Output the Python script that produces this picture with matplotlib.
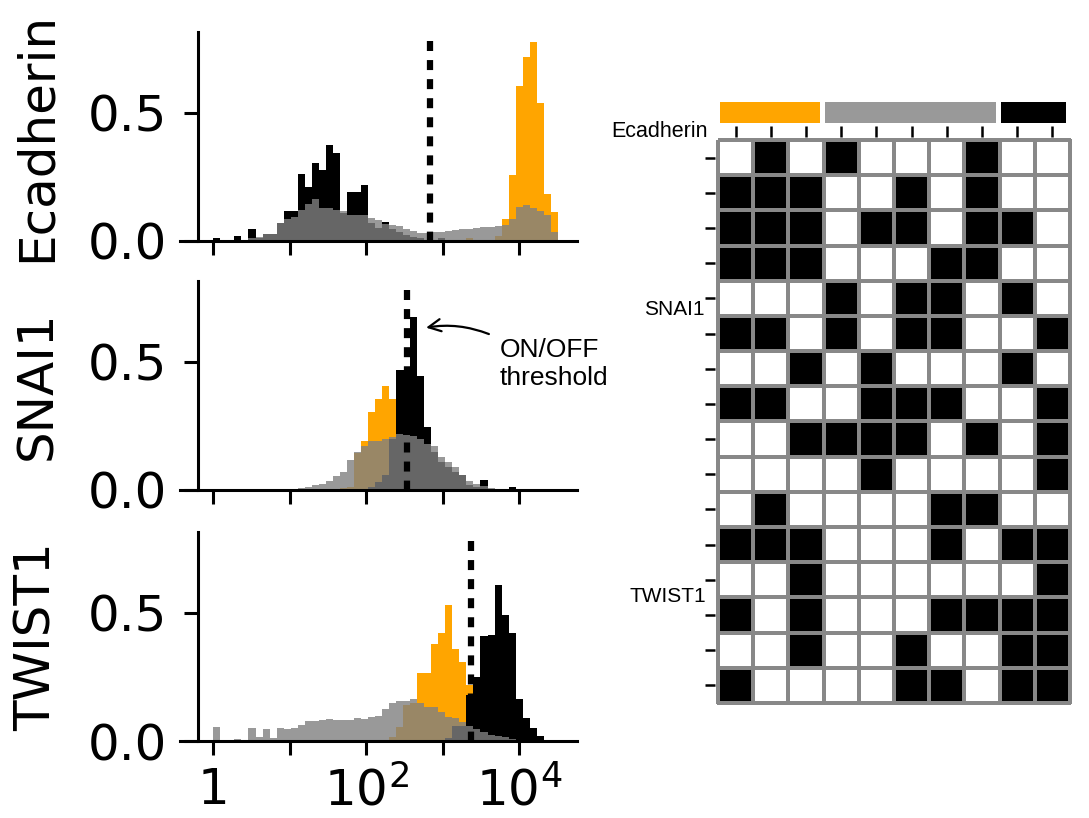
import numpy as np
import matplotlib.pyplot as plt
from matplotlib.colors import ListedColormap
from matplotlib.ticker import NullLocator

plt.rcParams['font.family'] = 'DejaVu Sans'

# log-spaced bins starting at 1 (50 bins, 0.092 decades each)
bin_edges = np.logspace(0, 4.6, 51)

genes = ["Ecadherin", "SNAI1", "TWIST1"]
thresholds = [690, 340, 2350]
threshold_top = 0.78

# fraction of cells per bin (orange / black / gray cell groups)
ecad_orange = [0, 0, 0, 0, 0, 0, 0, 0, 0, 0,
               0, 0, 0, 0, 0, 0, 0, 0, 0, 0,
               0, 0, 0, 0, 0, 0, 0, 0, 0, 0,
               0, 0, 0, 0, 0, 0, 0.01, 0, 0, 0.005,
               0.02, 0.084, 0.256, 0.604, 0.716, 0.777, 0.537, 0.183, 0.114, 0]
ecad_black = [0.01, 0, 0, 0.02, 0, 0.048, 0.01, 0.027, 0.027, 0.07,
              0.118, 0.118, 0.26, 0.21, 0.305, 0.277, 0.374, 0.345, 0.11, 0.19,
              0.19, 0.218, 0.07, 0.05, 0.075, 0.045, 0.035, 0.025, 0.015, 0.01,
              0.005, 0, 0.012, 0, 0, 0, 0, 0, 0, 0,
              0, 0, 0, 0, 0, 0, 0, 0, 0, 0]
ecad_gray = [0, 0, 0, 0, 0, 0.01, 0.015, 0.027, 0.027, 0.07,
             0.085, 0.095, 0.121, 0.144, 0.162, 0.127, 0.127, 0.12, 0.115, 0.1,
             0.1, 0.1, 0.09, 0.08, 0.065, 0.062, 0.058, 0.045, 0.04, 0.03,
             0.032, 0.034, 0.035, 0.04, 0.042, 0.046, 0.048, 0.052, 0.055, 0.056,
             0.06, 0.062, 0.085, 0.134, 0.14, 0.13, 0.115, 0.1, 0.036, 0]

snai_orange = [0, 0, 0, 0, 0, 0, 0, 0, 0, 0,
               0, 0, 0, 0, 0, 0, 0, 0, 0.008, 0.013,
               0.145, 0.19, 0.303, 0.353, 0.405, 0.353, 0, 0, 0, 0,
               0, 0, 0, 0, 0, 0, 0, 0, 0, 0,
               0, 0, 0, 0, 0, 0, 0, 0, 0, 0]
snai_black = [0, 0, 0, 0, 0, 0, 0, 0, 0, 0,
              0, 0, 0, 0, 0, 0, 0, 0, 0, 0,
              0, 0, 0.01, 0.03, 0.06, 0.2, 0.468, 0.468, 0.673, 0.446,
              0.247, 0.15, 0.11, 0.09, 0.07, 0.06, 0.02, 0.01, 0.04, 0.005,
              0, 0, 0.012, 0, 0, 0, 0, 0, 0, 0]
snai_gray = [0, 0, 0, 0, 0, 0, 0, 0, 0, 0,
             0, 0.003, 0.008, 0.012, 0.018, 0.025, 0.035, 0.055, 0.07, 0.115,
             0.147, 0.17, 0.19, 0.19, 0.2, 0.208, 0.22, 0.215, 0.21, 0.2,
             0.18, 0.17, 0.13, 0.11, 0.09, 0.06, 0.035, 0.025, 0.015, 0.008,
             0.005, 0.003, 0.002, 0, 0, 0, 0, 0, 0, 0]

twist_orange = [0, 0, 0, 0, 0, 0, 0, 0, 0, 0,
                0, 0, 0, 0, 0, 0, 0, 0, 0, 0,
                0, 0, 0, 0, 0.005, 0.017, 0.056, 0.14, 0.147, 0.266,
                0.266, 0.377, 0.42, 0.53, 0.36, 0.31, 0.22, 0, 0, 0,
                0, 0, 0, 0, 0, 0, 0, 0, 0, 0]
twist_black = [0, 0, 0, 0, 0, 0, 0, 0, 0, 0,
               0, 0, 0, 0, 0, 0, 0, 0, 0, 0,
               0, 0, 0, 0, 0, 0, 0, 0, 0, 0,
               0, 0, 0, 0.01, 0.058, 0.058, 0.18, 0.25, 0.41, 0.415,
               0.61, 0.49, 0.42, 0.165, 0.088, 0.052, 0.02, 0, 0, 0]
twist_gray = [0.056, 0, 0, 0.007, 0, 0.052, 0.017, 0.048, 0.01, 0.052,
              0.048, 0.052, 0.062, 0.079, 0.079, 0.082, 0.084, 0.082, 0.081, 0.082,
              0.088, 0.085, 0.092, 0.097, 0.123, 0.15, 0.155, 0.158, 0.162, 0.147,
              0.134, 0.134, 0.114, 0.092, 0.088, 0.075, 0.06, 0.045, 0.035, 0.023,
              0.02, 0.014, 0.009, 0.004, 0, 0, 0, 0, 0, 0]

orange_hists = [ecad_orange, snai_orange, twist_orange]
black_hists = [ecad_black, snai_black, twist_black]
gray_hists = [ecad_gray, snai_gray, twist_gray]

# binary ON/OFF states (16 rows x 10 columns)
states = [
    [0, 1, 0, 1, 0, 0, 0, 1, 0, 0],
    [1, 1, 1, 0, 0, 1, 0, 1, 0, 0],
    [1, 1, 1, 0, 1, 1, 0, 1, 1, 0],
    [1, 1, 1, 0, 0, 0, 1, 1, 0, 0],
    [0, 0, 0, 1, 0, 1, 1, 0, 1, 0],
    [1, 1, 0, 1, 0, 1, 1, 0, 0, 1],
    [0, 0, 1, 0, 1, 0, 0, 0, 1, 0],
    [1, 1, 0, 0, 1, 1, 1, 0, 0, 1],
    [0, 0, 1, 1, 1, 1, 0, 1, 0, 1],
    [0, 0, 0, 0, 1, 0, 0, 0, 0, 1],
    [0, 1, 0, 0, 0, 0, 1, 1, 0, 0],
    [1, 1, 1, 0, 0, 0, 1, 0, 1, 1],
    [0, 0, 1, 0, 0, 0, 0, 0, 0, 1],
    [1, 0, 1, 0, 0, 0, 1, 1, 1, 1],
    [0, 0, 1, 0, 0, 1, 0, 0, 1, 1],
    [1, 0, 0, 0, 0, 1, 1, 0, 1, 1],
]
group_sizes = [3, 5, 2]
group_colors = ['#FFA500', '#999999', 'black']

fig = plt.figure(figsize=(10.89, 8.18), dpi=100)

# histogram panels
bottoms = [0.7054, 0.4010, 0.0941]
for i, gene in enumerate(genes):
    ax = fig.add_axes([0.1653, bottoms[i], 0.3646, 0.2555])
    ax.stairs(orange_hists[i], bin_edges, fill=True, color='#FFA500', lw=0)
    ax.stairs(black_hists[i], bin_edges, fill=True, color='black', lw=0)
    ax.stairs(gray_hists[i], bin_edges, fill=True, color='#808080', alpha=0.8, lw=0)
    ax.plot([thresholds[i], thresholds[i]], [threshold_top, 0], color='black',
            lw=4.5, linestyle=(0, (1.6, 1.45)), dash_capstyle='butt')

    ax.set_xscale('log')
    ax.set_xlim(10 ** -0.436, 10 ** 4.76)
    ax.set_ylim(0, 0.815)
    ax.set_xticks([1, 10, 100, 1000, 10000])
    if i == 2:
        ax.set_xticklabels(['1', '', '$10^2$', '', '$10^4$'])
    else:
        ax.set_xticklabels([''] * 5)
    ax.xaxis.set_minor_locator(NullLocator())
    ax.set_yticks([0, 0.5])
    ax.set_yticklabels(['0.0', '0.5'])
    ax.tick_params(length=10, width=2.2, labelsize=36)
    ax.tick_params(axis='y', pad=12)
    ax.tick_params(axis='x', pad=8)

    for s in ['top', 'right']:
        ax.spines[s].set_visible(False)
    for s in ['left', 'bottom']:
        ax.spines[s].set_linewidth(2.2)
    ax.spines['left'].set_position(('axes', 0.045))

    ax.set_ylabel(gene, fontsize=36)
    ax.yaxis.set_label_coords(-0.30, 0.5)

    if gene == "SNAI1":
        ax.annotate('', xy=(560, 0.631), xytext=(10 ** 3.64, 0.604),
                    arrowprops=dict(arrowstyle='->', lw=1.6, color='black',
                                    connectionstyle='arc3,rad=0.15',
                                    mutation_scale=22))
        ax.text(10 ** 3.753, 0.491, 'ON/OFF\nthreshold', fontsize=19,
                family='Liberation Sans', ha='left', va='center')

# binary state heatmap
hm = fig.add_axes([0.6593, 0.1406, 0.3232, 0.6883])
mesh = hm.pcolormesh(np.array(states), cmap=ListedColormap(['white', 'black']),
                     vmin=0, vmax=1, edgecolors='#888888', linewidth=1.6)
mesh.set_clip_on(False)
hm.set_xlim(0, 10)
hm.set_ylim(16, 0)
hm.set_xticks(np.arange(10) + 0.5)
hm.set_yticks(np.arange(16) + 0.5)
hm.set_xticklabels([])
hm.set_yticklabels([])
hm.xaxis.tick_top()
hm.tick_params(axis='x', length=8, width=1.8, color='black')
hm.tick_params(axis='y', length=7, width=1.8, color='black')
for s in hm.spines.values():
    s.set_visible(False)
hm.spines['top'].set_position(('outward', 2))
hm.spines['left'].set_position(('outward', 2))

hm.text(-0.28, -0.23, 'Ecadherin', fontsize=15.5, family='Liberation Sans',
        ha='right', va='center')
hm.text(-0.37, 4.83, 'SNAI1', fontsize=15, family='Liberation Sans',
        ha='right', va='center')
hm.text(-0.34, 12.98, 'TWIST1', fontsize=15, family='Liberation Sans',
        ha='right', va='center')

# group colour bars above heatmap
bar_ax = fig.add_axes([0.6593, 1 - 123 / 818, 0.3232, 21 / 818])
starts = np.concatenate([[0], np.cumsum(group_sizes)[:-1]])
bar_ax.bar(starts + 0.05, 1, width=np.array(group_sizes) - 0.15, align='edge',
           color=group_colors)
bar_ax.set_xlim(0, 10)
bar_ax.set_ylim(0, 1)
bar_ax.axis('off')

fig.savefig('out.png', dpi=100)
